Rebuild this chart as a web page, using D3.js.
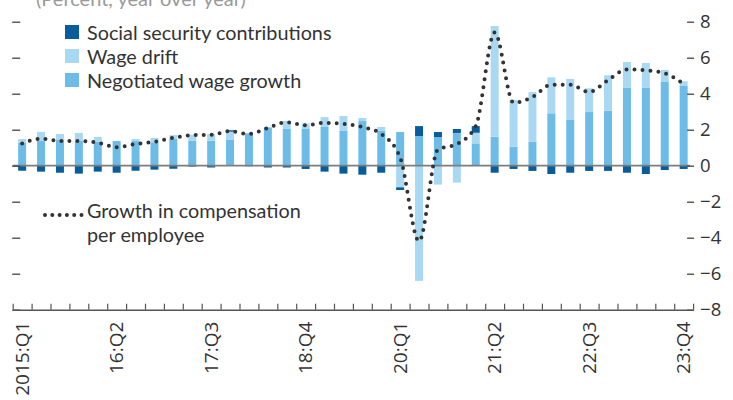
<!DOCTYPE html>
<html>
<head>
<meta charset="utf-8">
<script src="https://cdn.jsdelivr.net/npm/d3@7"></script>
<style>
  html, body { margin: 0; padding: 0; background: #fff; }
  svg { display: block; font-family: "Open Sans", Lato, sans-serif; }
</style>
</head>
<body>
<svg id="chart" width="733" height="400"></svg>
<script>
const quarters = [
  "2015Q1","2015Q2","2015Q3","2015Q4","2016Q1","2016Q2","2016Q3","2016Q4",
  "2017Q1","2017Q2","2017Q3","2017Q4","2018Q1","2018Q2","2018Q3","2018Q4",
  "2019Q1","2019Q2","2019Q3","2019Q4","2020Q1","2020Q2","2020Q3","2020Q4",
  "2021Q1","2021Q2","2021Q3","2021Q4","2022Q1","2022Q2","2022Q3","2022Q4",
  "2023Q1","2023Q2","2023Q3","2023Q4"
];
const tickLabels = ["2015:Q1","16:Q2","17:Q3","18:Q4","20:Q1","21:Q2","22:Q3","23:Q4"];
const tickLabelQuarters = ["2015Q1","2016Q2","2017Q3","2018Q4","2020Q1","2021Q2","2022Q3","2023Q4"];

const negotiated = [1.28,1.37,1.43,1.37,1.33,1.37,1.37,1.30,1.48,1.39,1.39,1.43,1.80,2.13,2.04,2.04,2.15,1.93,2.48,1.93,1.87,1.65,1.59,1.82,1.24,1.61,1.06,1.32,2.91,2.54,2.98,3.06,4.32,4.32,4.65,4.43];
const wageDrift = [0.20,0.50,0.33,0.45,0.27,0.00,0.11,0.24,0.22,0.33,0.37,0.46,0.00,0.00,0.44,0.31,0.55,0.83,0.17,0.22,-1.20,-6.40,-1.05,-0.94,0.59,6.15,2.59,2.77,2.00,2.28,1.32,1.96,1.44,1.39,0.67,0.26];
const socialSecurity = [-0.28,-0.33,-0.39,-0.44,-0.33,-0.39,-0.28,-0.22,-0.17,-0.05,-0.10,0.08,-0.03,-0.10,-0.10,-0.18,-0.33,-0.44,-0.50,-0.39,-0.15,0.55,0.28,0.22,0.37,-0.39,-0.18,-0.29,-0.46,-0.39,-0.29,-0.29,-0.39,-0.46,-0.24,-0.18];
const compensation = [1.24,1.50,1.38,1.37,1.28,1.03,1.20,1.33,1.55,1.70,1.72,1.92,1.76,2.10,2.41,2.24,2.38,2.33,2.15,1.76,0.45,-4.20,0.90,1.20,2.20,7.40,3.50,3.82,4.50,4.50,4.10,4.75,5.35,5.30,5.13,4.55];
const yTicks = [-8,-6,-4,-2,0,2,4,6,8];

const seriesKeys = ["negotiated","drift","social"];
const seriesNames = {social:"Social security contributions", drift:"Wage drift", negotiated:"Negotiated wage growth"};
const colors = {social:"#075c9c", drift:"#a9d9f2", negotiated:"#6dbce8"};

const table = quarters.map((q,i) => ({q, negotiated:negotiated[i], drift:wageDrift[i], social:socialSecurity[i], comp:compensation[i]}));

const svg = d3.select("#chart");
const pLeft = 12.7, pRight = 693.1, pTop = 21.7, pBottom = 309.7;
const LFONT = "Lato, 'Open Sans', sans-serif";
const LFS = 19.8;

const x = d3.scaleBand().domain(quarters).range([pLeft, pRight]).paddingInner(0.577).paddingOuter(0.2885);
const y = d3.scaleLinear().domain([-8, 8]).range([pBottom, pTop]);
const idx = d3.scaleLinear().domain([0, quarters.length]).range([pLeft, pRight]);

// title (cropped at top, as in the source)
svg.append("text").attr("x", 36).attr("y", 6).attr("fill", "#9a9a9a")
  .attr("font-family", LFONT).attr("font-size", 20).text("(Percent, year over year)");

// stacked bars
const stack = d3.stack().keys(seriesKeys).offset(d3.stackOffsetDiverging);
const stacked = stack(table);
svg.append("g").selectAll("g").data(stacked).join("g")
  .attr("fill", d => colors[d.key])
  .selectAll("rect").data(d => d).join("rect")
  .attr("x", d => x(d.data.q))
  .attr("width", x.bandwidth())
  .attr("y", d => y(Math.max(d[0], d[1])))
  .attr("height", d => Math.abs(y(d[0]) - y(d[1])));

// zero line
svg.append("line").attr("x1", pLeft).attr("x2", pRight - 3).attr("y1", y(0)).attr("y2", y(0))
  .attr("stroke", "#7d7d7d").attr("stroke-width", 1.8);

// left ticks (no labels)
const leftAxis = d3.axisRight(y).tickValues(yTicks).tickSize(8).tickFormat("");
svg.append("g").attr("transform", `translate(${pLeft - 0.5},0)`).call(leftAxis)
  .call(g => g.select(".domain").remove())
  .call(g => g.selectAll("line").attr("stroke", "#444").attr("stroke-width", 1.3));

// right axis
const rightAxis = d3.axisRight(y).tickValues(yTicks).tickSize(7).tickPadding(6);
svg.append("g").attr("transform", `translate(${pRight - 6},0)`).call(rightAxis)
  .call(g => g.select(".domain").remove())
  .call(g => g.selectAll("line").attr("stroke", "#444").attr("stroke-width", 1.3))
  .call(g => g.selectAll("text").attr("fill", "#333").attr("font-size", 18.5)
    .attr("font-family", "'Open Sans', Lato, sans-serif"));

// bottom axis with ticks between quarters
const bottomAxis = d3.axisTop(idx).tickValues(d3.range(quarters.length + 1)).tickSize(6).tickSizeOuter(0).tickFormat("");
svg.append("g").attr("transform", `translate(0,${pBottom})`).call(bottomAxis)
  .call(g => g.select(".domain").attr("stroke", "#555").attr("stroke-width", 1.5))
  .call(g => g.selectAll("line").attr("stroke", "#555").attr("stroke-width", 1.2));

// x labels
svg.append("g").selectAll("text").data(tickLabelQuarters).join("text")
  .attr("transform", d => `translate(${x(d) + x.bandwidth()/2},${pBottom + 12}) rotate(-90)`)
  .attr("text-anchor", "end").attr("dy", "0.36em")
  .attr("fill", "#333").attr("font-size", 19)
  .text((d,i) => tickLabels[i]);

// dotted compensation line
const line = d3.line()
  .x(d => x(d.q) + x.bandwidth()/2)
  .y(d => y(d.comp))
  .curve(d3.curveMonotoneX);
const dotStyle = sel => sel.attr("fill", "none").attr("stroke", "#333")
  .attr("stroke-width", 4).attr("stroke-linecap", "round").attr("stroke-dasharray", "0 8");
svg.append("path").datum(table).attr("d", line).call(dotStyle);

// legend
const legendKeys = ["social","drift","negotiated"];
const lg = svg.append("g").attr("font-family", LFONT);
legendKeys.forEach((k,i) => {
  lg.append("rect").attr("x", 65).attr("y", 25 + i*24).attr("width", 14).attr("height", 14).attr("fill", colors[k]);
  lg.append("text").attr("x", 87).attr("y", 39.5 + i*24).attr("fill", "#333").attr("font-size", LFS).text(seriesNames[k]);
});
lg.append("line").attr("x1", 45).attr("x2", 82).attr("y1", 215).attr("y2", 215).call(dotStyle).attr("stroke-dasharray", "0 7.3");
lg.append("text").attr("x", 87).attr("y", 217.5).attr("fill", "#333").attr("font-size", LFS).text("Growth in compensation");
lg.append("text").attr("x", 87).attr("y", 241.5).attr("fill", "#333").attr("font-size", LFS).text("per employee");
</script>
</body>
</html>
